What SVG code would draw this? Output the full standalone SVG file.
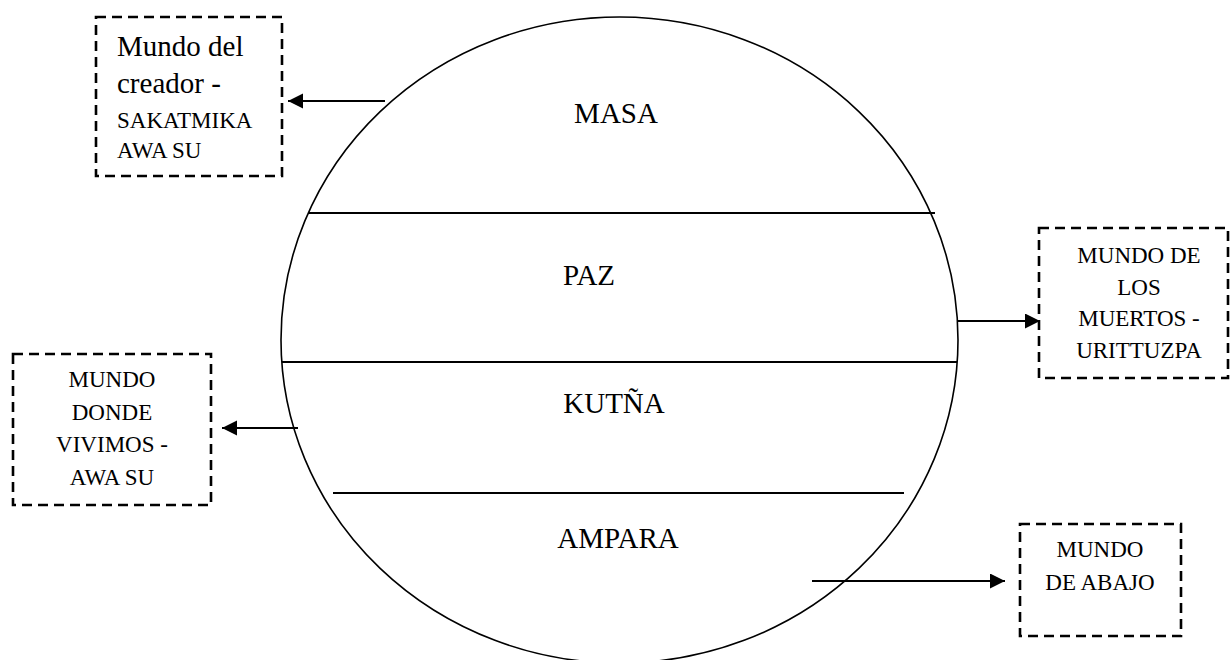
<svg xmlns="http://www.w3.org/2000/svg" width="1230" height="660" viewBox="0 0 1230 660">
<style>
.box{fill:#fff;stroke:#000;stroke-width:2.6;stroke-dasharray:10 6}
text{font-family:"Liberation Serif","DejaVu Serif",serif;fill:#000}
.big{font-size:29px;text-anchor:middle}
.sm{font-size:23px}
.mid{text-anchor:middle}
.ln{stroke:#000;stroke-width:2;fill:none}
.arr{stroke:#000;stroke-width:2;fill:none;marker-end:url(#ah)}
</style>
<defs>
<marker id="ah" markerUnits="userSpaceOnUse" markerWidth="16" markerHeight="16" refX="15" refY="7.5" orient="auto">
<path d="M0,0 L15,7.5 L0,15 Z" fill="#000"/>
</marker>
</defs>
<rect width="1230" height="660" fill="#fff"/>
<g id="world">
<ellipse cx="619.5" cy="340" rx="338.5" ry="323" fill="none" stroke="#000" stroke-width="1.6"/>
<line class="ln" x1="308" y1="213" x2="935" y2="213"/>
<line class="ln" x1="282" y1="362" x2="957" y2="362"/>
<line class="ln" x1="333" y1="493" x2="904" y2="493"/>
<text class="big" x="616" y="123">MASA</text>
<text class="big" x="589" y="285">PAZ</text>
<text class="big" x="614" y="413">KUTÑA</text>
<text class="big" x="618" y="548">AMPARA</text>
</g>
<g id="creador">
<rect class="box" x="96" y="17" width="186" height="159"/>
<text x="117" y="56" font-size="29">Mundo del</text>
<text x="117" y="93" font-size="29">creador -</text>
<text class="sm" x="117" y="128">SAKATMIKA</text>
<text class="sm" x="117" y="158">AWA SU</text>
</g>
<g id="muertos">
<rect class="box" x="1039" y="228" width="189" height="150"/>
<text class="sm mid" x="1139" y="263">MUNDO DE</text>
<text class="sm mid" x="1139" y="295">LOS</text>
<text class="sm mid" x="1139" y="326">MUERTOS -</text>
<text class="sm mid" x="1139" y="358">URITTUZPA</text>
</g>
<g id="vivimos">
<rect class="box" x="13" y="354" width="198" height="151"/>
<text class="sm mid" x="112" y="387">MUNDO</text>
<text class="sm mid" x="112" y="420">DONDE</text>
<text class="sm mid" x="112" y="452">VIVIMOS -</text>
<text class="sm mid" x="112" y="485">AWA SU</text>
</g>
<g id="abajo">
<rect class="box" x="1020" y="524" width="161" height="112"/>
<text class="sm mid" x="1100" y="557">MUNDO</text>
<text class="sm mid" x="1100" y="590">DE ABAJO</text>
</g>
<g id="connectors">
<line class="arr" x1="385" y1="101" x2="288" y2="101"/>
<line class="arr" x1="957" y1="321" x2="1040" y2="321"/>
<line class="arr" x1="298" y1="428" x2="222" y2="428"/>
<line class="arr" x1="812" y1="581" x2="1005" y2="581"/>
</g>
</svg>
